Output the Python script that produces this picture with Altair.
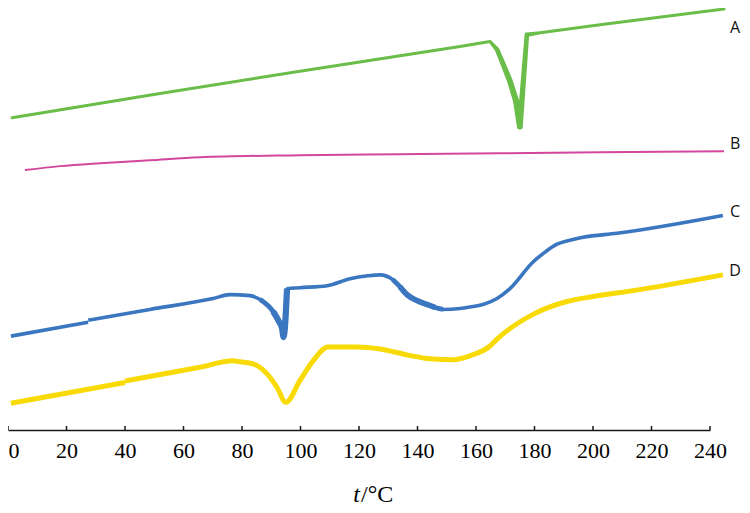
import altair as alt
import pandas as pd

# ---- data (temperature in °C, signal in arbitrary units) ----
tick_values = [0, 20, 40, 60, 80, 100, 120, 140, 160, 180, 200, 220, 240]

a_t = [1.4, 50.9, 99.8, 154.5, 164.8, 167.2, 168.9, 171.6, 173.7, 175.0, 177.4, 181.9, 202.4, 244.8]
a_v = [316, 340, 363, 388, 393, 385, 373, 353, 333, 307, 400, 402, 410, 426]

b_t = [5.8, 17.8, 31.5, 48.5, 65.6, 99.8, 134.0, 168.2, 202.4, 244.8]
b_v = [263, 267, 270, 273, 276, 278, 279, 280, 281, 282]

# curve C is recorded in two pieces (small step near 27 °C)
c1_t = [1.0, 27.4]
c1_v = [95, 109]
c2_t = [27.4, 48.5, 70.1, 75.9, 82.7, 86.2, 90.6, 92.6, 93.7, 94.2, 95.4, 99.8,
        109.1, 116.9, 123.0, 127.2, 131.6, 134.0, 136.4, 139.8, 143.2, 146.0, 148.7, 154.5,
        157.9, 162.4, 167.2, 171.6, 179.5, 183.6, 187.7, 192.1, 196.6, 208.2, 244.4]
c2_v = [111, 122, 133, 137, 136, 132, 120, 110, 103, 94, 143, 144,
        146, 153, 156, 157, 152, 145, 137, 131, 127, 124, 122, 123,
        124.5, 127, 133, 143, 170, 180, 188, 192, 195, 199, 217]

# curve D is recorded in two pieces (small step near 40 °C)
d1_t = [1.0, 40.0]
d1_v = [27, 48]
d2_t = [40.0, 65.6, 76.9, 79.3, 83.8, 88.5, 92.0, 95.0, 99.8, 104.3, 109.4, 119.3,
        127.2, 136.4, 144.3, 152.1, 157.9, 164.8, 167.2, 179.5, 191.1, 200.0, 213.7, 244.4]
d2_v = [49.5, 63.5, 70, 69, 67, 57, 43, 28, 50, 70, 84, 84,
        82, 76, 72, 71, 75, 85, 92, 117, 130, 135, 141, 157]

series_names = ["A", "B", "C", "D"]
label_t = [248.6, 248.6, 248.6, 248.6]
label_v = [407, 289, 221, 161]

# ---- styles ----
colors = {"A": "#6abd48", "B": "#d2479c", "C": "#3b77c1", "D": "#f8da06"}
A_BASE, A_PEAK, A_LO, A_HI, A_CENTRE = 3.0, 6.2, 164.8, 178.5, 174.2
# thicker overdrawn stretches of curve C: (from, to, stroke width)
c_thick = [(84.0, 95.4, 4.8), (89.5, 95.4, 6.2), (130.0, 152.0, 4.8), (134.0, 146.5, 5.6)]


def a_widths(ts):
    out = []
    for t in ts:
        w = A_BASE
        if A_LO <= t <= A_HI:
            f = (t - A_LO) / (A_CENTRE - A_LO) if t <= A_CENTRE else (A_HI - t) / (A_HI - A_CENTRE)
            w = A_BASE + (A_PEAK - A_BASE) * f ** 0.5
        out.append(w)
    return out


def pieces(*parts):
    frames = []
    for i, (ts, vs) in enumerate(parts):
        frames.append(pd.DataFrame({"t": ts, "v": vs, "seg": i}))
    return pd.concat(frames, ignore_index=True)


df_a = pd.DataFrame({"t": a_t, "v": a_v, "w": a_widths(a_t)})
df_b = pd.DataFrame({"t": b_t, "v": b_v})
df_c = pieces((c1_t, c1_v), (c2_t, c2_v))
df_d = pieces((d1_t, d1_v), (d2_t, d2_v))

labels_df = pd.DataFrame({"series": series_names, "t": label_t, "v": label_v})
ticks_df = pd.DataFrame({"t": tick_values})

W, H = 734, 422
xscale = alt.Scale(domain=[0, 240], range=[0, 702])
yscale = alt.Scale(domain=[0, 427])

x_axis = alt.Axis(
    values=tick_values,
    ticks=False,
    grid=False,
    title=None,
    domainColor="#1a1a1a",
    domainWidth=1.5,
    labelFont="Liberation Serif",
    labelFontSize=22,
    labelColor="#000000",
    labelPadding=10,
    labelAlign={"condition": {"test": "datum.value === 0", "value": "left"}, "value": "center"},
)

X = alt.X("t:Q", scale=xscale, axis=x_axis)
Y = alt.Y("v:Q", scale=yscale, axis=None)

curve_a = alt.Chart(df_a).mark_trail(color=colors["A"]).encode(
    x=X, y=Y, size=alt.Size("w:Q", scale=None, legend=None)
)
curve_b = alt.Chart(df_b).mark_line(color=colors["B"], strokeWidth=2, interpolate="monotone").encode(x=X, y=Y)
curve_c = alt.Chart(df_c).mark_line(color=colors["C"], strokeWidth=3.6, interpolate="monotone").encode(
    x=X, y=Y, detail="seg:N"
)
curve_d = alt.Chart(df_d).mark_line(color=colors["D"], strokeWidth=5, interpolate="monotone").encode(
    x=X, y=Y, detail="seg:N"
)

c_layers = []
for lo, hi, sw in c_thick:
    sub = df_c[(df_c.t >= lo) & (df_c.t <= hi)]
    c_layers.append(
        alt.Chart(sub).mark_line(color=colors["C"], strokeWidth=sw, interpolate="monotone").encode(x=X, y=Y)
    )

tick_marks = alt.Chart(ticks_df).mark_rule(color="#1a1a1a", strokeWidth=1.5).encode(
    x=alt.X("t:Q", scale=xscale),
    y=alt.value(H),
    y2=alt.value(H - 4),
)

series_labels = alt.Chart(labels_df).mark_text(
    font="Open Sans", fontSize=16, color="#111111", align="center", baseline="middle"
).encode(
    x=alt.X("t:Q", scale=xscale),
    y=alt.Y("v:Q", scale=yscale),
    text="series:N",
)

title_t = alt.Chart(pd.DataFrame({"s": ["t"]})).mark_text(
    font="Liberation Serif", fontSize=24, fontStyle="italic", color="#000000",
    align="right", baseline="middle",
).encode(x=alt.value(352), y=alt.value(487), text="s:N")

title_rest = alt.Chart(pd.DataFrame({"s": ["/°C"]})).mark_text(
    font="Liberation Serif", fontSize=24, color="#000000",
    align="left", baseline="middle",
).encode(x=alt.value(353), y=alt.value(487), text="s:N")

chart = alt.layer(
    curve_a, curve_b, curve_c, *c_layers, curve_d, tick_marks, series_labels, title_t, title_rest
).properties(
    width=W,
    height=H,
    autosize=alt.AutoSizeParams(type="none"),
    padding={"left": 0, "top": 0, "right": 0, "bottom": 85},
    background="white",
).configure_view(stroke=None)

chart.save("out.html", embed_options={"renderer": "svg", "actions": False})
